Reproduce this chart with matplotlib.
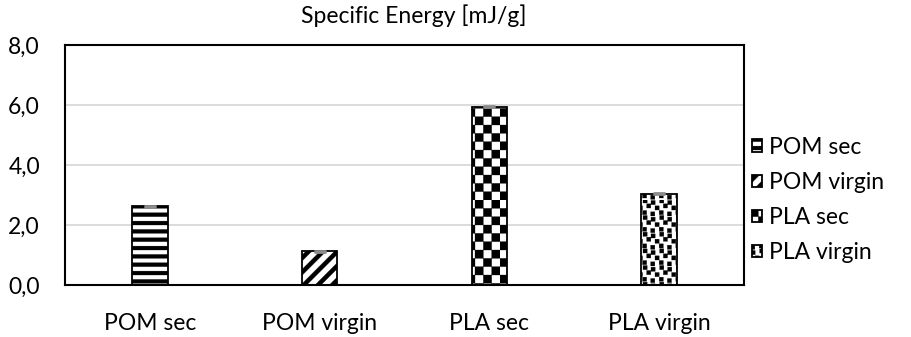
import warnings
import numpy as np
import matplotlib
matplotlib.use("Agg")
import matplotlib.pyplot as plt
import matplotlib.hatch as mhatch
from matplotlib.path import Path
from matplotlib.ticker import FuncFormatter

warnings.filterwarnings("ignore")

# data
categories = ["POM sec", "POM virgin", "PLA sec", "PLA virgin"]
energy = [2.62, 1.13, 5.94, 3.05]
energy_err = [0.02, 0.02, 0.02, 0.02]
patterns = ["H", "D", "C", "P"]


class ShapeHatch(mhatch.HatchPatternBase):
    # filled polygons inside the unit hatch cell
    char = ""

    def __init__(self, hatch, density):
        self.polys = self.make_polys() if (hatch and self.char in hatch) else []
        self.num_vertices = sum(len(p) + 1 for p in self.polys)

    def make_polys(self):
        return []

    def set_vertices_and_codes(self, vertices, codes):
        i = 0
        for p in self.polys:
            m = len(p)
            vertices[i:i + m] = p
            vertices[i + m] = p[0]
            codes[i] = Path.MOVETO
            codes[i + 1:i + m] = Path.LINETO
            codes[i + m] = Path.CLOSEPOLY
            i += m + 1


class StripeHatch(ShapeHatch):
    char = "H"

    def make_polys(self):
        n, w = 12, 0.47
        s = 1.0 / n
        return [np.array([[-0.1, k * s], [1.1, k * s], [1.1, k * s + w * s], [-0.1, k * s + w * s]])
                for k in range(n)]


class DiagHatch(ShapeHatch):
    char = "D"

    def make_polys(self):
        n, w = 7, 0.42
        s = 1.0 / n
        out = []
        for k in range(-n - 1, n + 1):
            c = k * s
            out.append(np.array([[c, 0], [c + w * s, 0], [c + w * s + 1, 1], [c + 1, 1]]))
        return out


class CheckHatch(ShapeHatch):
    char = "C"

    def make_polys(self):
        n = 12
        s = 1.0 / n
        sq = np.array([[0, 0], [1, 0], [1, 1], [0, 1]]) * s
        return [sq + [i * s, j * s] for i in range(n) for j in range(n) if (i + j) % 2 == 0]


class ConfettiHatch(ShapeHatch):
    char = "P"

    def make_polys(self):
        n = 6
        s = 1.0 / n
        d = 0.25
        spots = [(0.04, 0.04), (0.55, 0.12), (0.30, 0.40), (0.80, 0.52),
                 (0.06, 0.72), (0.58, 0.82)]
        sq = np.array([[0, 0], [1, 0], [1, 1], [0, 1]]) * d * s
        out = []
        for i in range(n):
            for j in range(n):
                for sx, sy in spots:
                    out.append(sq + [(i + sx) * s, (j + sy) * s])
        return out


mhatch._hatch_types.extend([StripeHatch, DiagHatch, CheckHatch, ConfettiHatch])

plt.rcParams["font.family"] = ["Lato", "DejaVu Sans"]
plt.rcParams["hatch.linewidth"] = 0.2
plt.rcParams["hatch.color"] = "black"
fs = 16.5

fig = plt.figure(figsize=(9.12, 3.37), dpi=100)
ax = fig.add_axes([65 / 912, 1 - 285 / 337, (744 - 65) / 912, (285 - 45) / 337])

x = np.arange(len(categories))
bars = ax.bar(x, energy, width=0.21, color="white", edgecolor="black",
              linewidth=1.3, label=categories, zorder=2)
for b, h in zip(bars, patterns):
    b.set_hatch(h)
ax.errorbar(x, energy, yerr=energy_err, fmt="none", ecolor="#8c8c8c",
            elinewidth=1.2, capsize=4.5, capthick=2, zorder=3)

ax.set_xlim(-0.5, 3.5)
ax.set_ylim(0, 8)
ax.set_yticks([0, 2, 4, 6, 8])
ax.yaxis.set_major_formatter(FuncFormatter(lambda v, p: ("%.1f" % v).replace(".", ",")))
ax.set_xticks(x)
ax.set_xticklabels(categories)
ax.tick_params(axis="both", length=0, labelsize=fs, colors="black")
ax.tick_params(axis="y", pad=18)
ax.tick_params(axis="x", pad=20)
ax.grid(axis="y", color="#d9d9d9", linewidth=1.3, zorder=0)
ax.set_axisbelow(True)
for sp in ax.spines.values():
    sp.set_linewidth(1.5)
    sp.set_color("black")

fig.text(414 / 912, 1 - 16 / 337, "Specific Energy [mJ/g]", ha="center", va="center", fontsize=fs)

fig.legend(handles=list(bars), labels=categories, loc="center left",
           bbox_to_anchor=(747 / 912, 1 - 200 / 337), frameon=False, fontsize=fs,
           handlelength=0.45, handleheight=0.45, handletextpad=0.3, labelspacing=0.62,
           borderaxespad=0, borderpad=0.2)

fig.savefig("out.png", dpi=100)
